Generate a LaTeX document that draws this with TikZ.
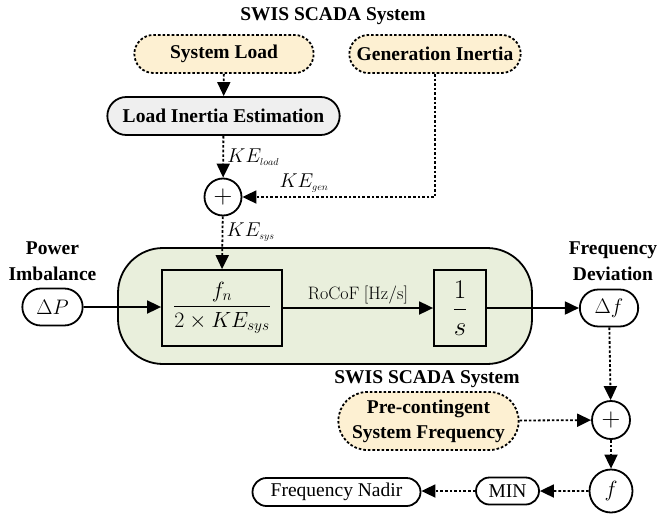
\RequirePackage{fix-cm}
\documentclass[tikz,border=0pt]{standalone}
\usepackage{amsmath}
\usepackage[no-math]{fontspec}
\setmainfont{Liberation Serif}
\usepackage{tikz}
\usetikzlibrary{shapes.geometric, shapes.misc, arrows.meta, positioning, calc}
\usepackage{xcolor}
\definecolor{scadafill}{HTML}{FDF0D2}
\definecolor{plantfill}{HTML}{E9EFDC}
\definecolor{estfill}{HTML}{EFEFEF}

\begin{document}
\begin{tikzpicture}[x=1pt, y=-1pt,
  every node/.style={font=\fontsize{19.5}{23}\selectfont},
  dotline/.style={line width=1.8pt, dash pattern=on 2.6pt off 2pt},
  scadabox/.style={rounded rectangle, draw, dotline, fill=scadafill,
    minimum height=38, align=center, font=\fontsize{19.5}{25}\selectfont\bfseries},
  pill/.style={rounded rectangle, draw, line width=1.8pt, minimum height=37},
  blockbox/.style={rectangle, draw, line width=1.8pt, fill=plantfill, minimum height=76},
  sumnode/.style={circle, draw, line width=1.8pt, fill=white, minimum size=37, inner sep=0pt},
  heading/.style={align=center, font=\fontsize{19.5}{26}\selectfont\bfseries},
  kelabel/.style={font=\fontsize{20}{22}\selectfont},
  flow/.style={-{Triangle[length=14pt,width=13pt]}, line width=1.8pt},
  sigflow/.style={flow, dotline}]
\useasboundingbox (0,0) rectangle (661,514);

% inertia estimation from the SCADA data
\node[heading] (scada1) at (333,16) {SWIS SCADA System};
\node[scadabox, minimum width=186] (sysload) at (224,54) {System Load};
\node[scadabox, minimum width=178] (geninertia) at (435,54) {Generation Inertia};
\node[pill, fill=estfill, minimum width=239, minimum height=38,
      font=\fontsize{19.5}{23}\selectfont\bfseries] (lie) at (223.5,116) {Load Inertia Estimation};
\node[sumnode, font=\fontsize{26}{26}\selectfont] (sum1) at (223,197) {$+$};

% swing equation
\node[draw, line width=1.8pt, fill=plantfill, rounded corners=45pt,
      minimum width=414, minimum height=116] (plant) at (325,306) {};
\node[blockbox, minimum width=120, inner sep=2pt, font=\fontsize{22}{24}\selectfont] (gain) at (222,308)
  {$\dfrac{f_n}{2\times KE_{sys}}$};
\node[blockbox, minimum width=52, inner sep=2pt, font=\fontsize{27}{30}\selectfont] (integ) at (460,308)
  {$\dfrac{1}{s}$};
\node[pill, minimum width=67, font=\fontsize{21}{23}\selectfont] (dP) at (52.5,307) {$\Delta P$};
\node[heading] (dPlbl) at (52.5,261) {Power\\Imbalance};
\node[pill, minimum width=65, font=\fontsize{21}{23}\selectfont] (df) at (609,308) {$\Delta f$};
\node[heading] (dflbl) at (613,261) {Frequency\\Deviation};

% frequency nadir
\node[heading] (scada2) at (427,379) {SWIS SCADA System};
\node[scadabox, minimum width=187, minimum height=58] (precont) at (428.5,421)
  {Pre-contingent\\System Frequency};
\node[sumnode, minimum size=38, font=\fontsize{26}{26}\selectfont] (sum2) at (611,420) {$+$};
\node[sumnode, minimum size=43, font=\fontsize{22}{24}\selectfont] (freq) at (611,491) {$f$};
\node[pill, minimum width=65, minimum height=27, inner xsep=1pt, inner ysep=2pt] (minop) at (507.5,491) {MIN};
\node[pill, minimum width=172, minimum height=28, inner sep=2pt] (nadir) at (336.5,492) {Frequency Nadir};

\draw[sigflow] (sysload) -- (lie);
\draw[sigflow] (lie) -- node[right, kelabel] {$KE_{\scriptscriptstyle load}$} (sum1);
\draw[sigflow] (geninertia.south) |- node[pos=0.84, above, kelabel] {$KE_{\scriptscriptstyle gen}$} (sum1.east);
\draw[sigflow] (sum1) -- node[pos=0.3, right, kelabel] {$KE_{\scriptscriptstyle sys}$} (gain.north);

\draw[flow] (dP) -- (dP -| gain.west);
\draw[flow] (gain) -- node[above, font=\fontsize{18}{20}\selectfont] {$\mathrm{RoCoF\ [Hz/s]}$} (integ);
\draw[flow] (integ) -- (df);

\draw[sigflow] (df) -- (sum2);
\draw[sigflow] (precont) -- (sum2);
\draw[sigflow] (sum2) -- (freq);
\draw[sigflow] (freq) -- (minop);
\draw[sigflow] (minop) -- (minop -| nadir.east);
\end{tikzpicture}
\end{document}
